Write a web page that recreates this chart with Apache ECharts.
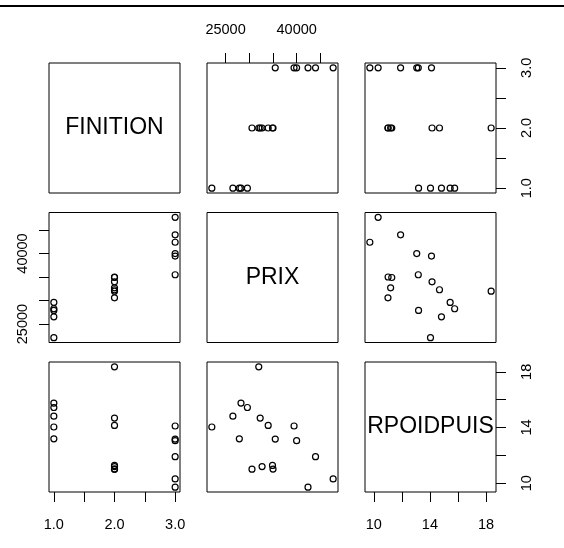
<!DOCTYPE html>
<html>
<head>
<meta charset="utf-8">
<script src="https://cdn.jsdelivr.net/npm/echarts@6/dist/echarts.min.js"></script>
<style>html,body{margin:0;padding:0;background:#fff;}#c{width:564px;height:548px;}</style>
</head>
<body>
<div id="c"></div>
<script>
// Variable names (diagonal labels)
const varNames = ['FINITION', 'PRIX', 'RPOIDPUIS'];
// Data: 18 observations
const finition = [2, 3, 1, 1, 2, 3, 2, 2, 3, 1, 3, 2, 3, 2, 3, 1, 2, 1];
const prix = [30570, 39990, 29600, 28250, 34900, 35480, 32300, 32000, 47700, 26540, 42395, 33990, 43980, 35010, 39450, 27900, 32700, 22100];
const rpoidpuis = [11.01, 13.06, 15.44, 15.76, 11.28, 13.17, 14.68, 18.36, 10.31, 14.82, 9.72, 14.15, 11.91, 11.02, 14.11, 13.19, 11.20, 14.04];
// Tick positions and labelled ticks
const finitionTicks = [1, 1.5, 2, 2.5, 3];
const finitionLabels = [1, 2, 3];
const prixTicks = [25000, 30000, 35000, 40000, 45000];
const prixLabels = [25000, 40000];
const rpoidTicks = [10, 12, 14, 16, 18];
const rpoidLabels = [10, 14, 18];

const vars = [finition, prix, rpoidpuis];
const ticks = [finitionTicks, prixTicks, rpoidTicks];
const labs = [finitionLabels, prixLabels, rpoidLabels];
const fmts = [v => Number(v).toFixed(1), v => String(v), v => String(v)];

function range(a) {
  const mn = Math.min(...a), mx = Math.max(...a), r = mx - mn;
  return [mn - 0.04 * r, mx + 0.04 * r];
}
const ranges = vars.map(range);

const colLeft = [49, 207, 365];
const rowTop = [63, 212.5, 362];
const W = 131, H = 130;
const FONT = 'Liberation Sans, Arial, sans-serif';

const grids = [], xAxes = [], yAxes = [], series = [], graphics = [];
let gi = 0;
for (let i = 0; i < 3; i++) {
  for (let j = 0; j < 3; j++) {
    grids.push({left: colLeft[j], top: rowTop[i], width: W, height: H, show: true,
      borderColor: '#000', borderWidth: 1, backgroundColor: 'transparent', containLabel: false});
    // x variable = column j, y variable = row i
    let xShow = false, xPos = 'bottom', yShow = false, yPos = 'left';
    if (i === 0 && j % 2 === 1) { xShow = true; xPos = 'top'; }
    if (i === 2 && j % 2 === 0) { xShow = true; xPos = 'bottom'; }
    if (j === 0 && i % 2 === 1) { yShow = true; yPos = 'left'; }
    if (j === 2 && i % 2 === 0) { yShow = true; yPos = 'right'; }
    xAxes.push({
      type: 'value', gridIndex: gi, position: xPos,
      min: ranges[j][0], max: ranges[j][1],
      axisLine: {show: false},
      splitLine: {show: false},
      axisTick: {show: xShow, inside: false, length: 10, customValues: ticks[j], lineStyle: {color: '#000', width: 1}},
      axisLabel: {show: xShow, customValues: labs[j], formatter: fmts[j], margin: xPos === 'top' ? 26 : 25,
        color: '#000', fontSize: 14.5, fontFamily: FONT}
    });
    yAxes.push({
      type: 'value', gridIndex: gi, position: yPos,
      min: ranges[i][0], max: ranges[i][1],
      axisLine: {show: false},
      splitLine: {show: false},
      axisTick: {show: yShow, inside: false, length: 10, customValues: ticks[i], lineStyle: {color: '#000', width: 1}},
      axisLabel: {show: yShow, customValues: labs[i], formatter: fmts[i], margin: yPos === 'left' ? 19 : 23, rotate: 90,
        color: '#000', fontSize: 14.5, fontFamily: FONT}
    });
    if (i !== j) {
      const xs = vars[j], ys = vars[i];
      series.push({
        type: 'scatter', xAxisIndex: gi, yAxisIndex: gi,
        symbol: 'circle', symbolSize: 6,
        itemStyle: {color: 'transparent', borderColor: '#000', borderWidth: 1.2, opacity: 1},
        emphasis: {disabled: true},
        silent: true,
        data: xs.map((v, k) => [v, ys[k]])
      });
    } else {
      graphics.push({
        type: 'text', x: colLeft[j] + W / 2, y: rowTop[i] + H / 2,
        style: {text: varNames[i], fill: '#000', font: '23px ' + FONT, align: 'center', verticalAlign: 'middle'}
      });
    }
    gi++;
  }
}
graphics.push({type: 'rect', shape: {x: 0, y: 5, width: 564, height: 2}, style: {fill: '#000'}});

const chart = echarts.init(document.getElementById('c'), null, {renderer: 'canvas'});
chart.setOption({
  animation: false,
  backgroundColor: '#fff',
  grid: grids,
  xAxis: xAxes,
  yAxis: yAxes,
  series: series,
  graphic: graphics
});
</script>
</body>
</html>
